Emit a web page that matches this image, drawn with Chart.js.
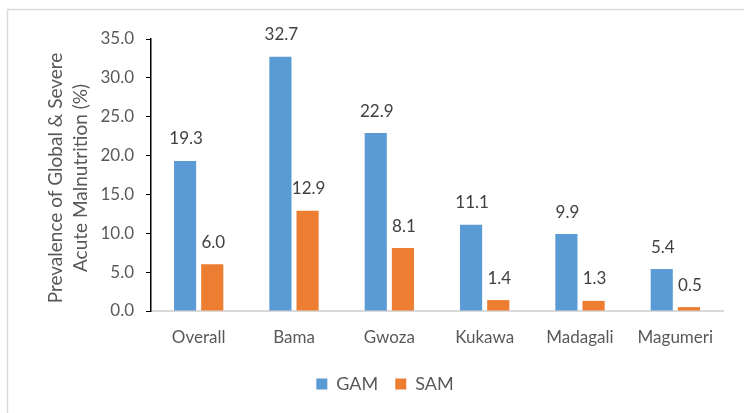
<!DOCTYPE html>
<html>
<head>
<meta charset="utf-8">
<script src="https://cdn.jsdelivr.net/npm/chart.js"></script>
<style>
  body { margin: 0; background: #fff; }
</style>
</head>
<body>
<canvas id="chart" width="744" height="413"></canvas>
<script>
const districts = ["Overall", "Bama", "Gwoza", "Kukawa", "Madagali", "Magumeri"]
const gam = [19.3, 32.7, 22.9, 11.1, 9.9, 5.4]
const sam = [6.0, 12.9, 8.1, 1.4, 1.3, 0.5]
const yTitle = ["Prevalence of Global & Severe", "Acute Malnutrition (%)"]

const FONT = "Lato, 'Open Sans', sans-serif"

// frame around the chart (only top/left edges are visible in the crop)
const framePlugin = {
  id: "frame",
  beforeDraw(chart) {
    const ctx = chart.ctx
    ctx.save()
    ctx.strokeStyle = "#d9d9d9"
    ctx.lineWidth = 1.5
    ctx.beginPath()
    ctx.moveTo(7.5, 420)
    ctx.lineTo(7.5, 9.5)
    ctx.lineTo(760, 9.5)
    ctx.stroke()
    ctx.restore()
  }
}

// two-line rotated y axis title, spaced like the original
const axisTitle = {
  id: "axisTitle",
  afterDraw(chart) {
    const {ctx, chartArea} = chart
    const cy = (chartArea.top + chartArea.bottom) / 2 + 3
    ctx.save()
    ctx.font = "19px " + FONT
    ctx.fillStyle = "#595959"
    ctx.textAlign = "center"
    ctx.textBaseline = "middle"
    yTitle.forEach((line, i) => {
      ctx.save()
      ctx.translate(56 + i * 25, cy)
      ctx.rotate(-Math.PI / 2)
      ctx.fillText(line, 0, 0)
      ctx.restore()
    })
    ctx.restore()
  }
}

// value labels above each bar
const valueLabels = {
  id: "valueLabels",
  afterDatasetsDraw(chart) {
    const ctx = chart.ctx
    ctx.save()
    ctx.font = "17px " + FONT
    ctx.fillStyle = "#404040"
    ctx.textAlign = "center"
    ctx.textBaseline = "middle"
    chart.data.datasets.forEach((ds, i) => {
      chart.getDatasetMeta(i).data.forEach((bar, j) => {
        ctx.fillText(ds.data[j].toFixed(1), bar.x + 1, bar.y - 22)
      })
    })
    ctx.restore()
  }
}

new Chart(document.getElementById("chart"), {
  type: "bar",
  data: {
    labels: districts,
    datasets: [
      {label: "GAM", data: gam, backgroundColor: "#5b9bd5"},
      {label: "SAM", data: sam, backgroundColor: "#ed7d31"}
    ]
  },
  plugins: [framePlugin, axisTitle, valueLabels],
  options: {
    responsive: false,
    animation: false,
    datasets: {bar: {categoryPercentage: 0.57, barPercentage: 0.815}},
    layout: {padding: {left: 47, right: 21, top: 39, bottom: 10}},
    plugins: {
      tooltip: {enabled: false},
      legend: {
        position: "bottom",
        labels: {
          boxWidth: 11, boxHeight: 11, padding: 17,
          color: "#595959",
          font: {family: FONT, size: 18}
        }
      }
    },
    scales: {
      x: {
        grid: {display: false},
        border: {display: true, color: "#d9d9d9", width: 2},
        ticks: {color: "#595959", padding: 8, font: {family: FONT, size: 17}},
        afterFit: s => { s.height = 47 }
      },
      y: {
        min: 0, max: 35,
        ticks: {
          stepSize: 5, color: "#595959", padding: 12,
          font: {family: FONT, size: 17},
          callback: v => v.toFixed(1)
        },
        grid: {drawOnChartArea: false, drawTicks: true, tickLength: 5, color: "#000"},
        border: {display: true, color: "#000", width: 1.5},
        afterFit: s => { s.width = 104 }
      }
    }
  }
})
</script>
</body>
</html>
